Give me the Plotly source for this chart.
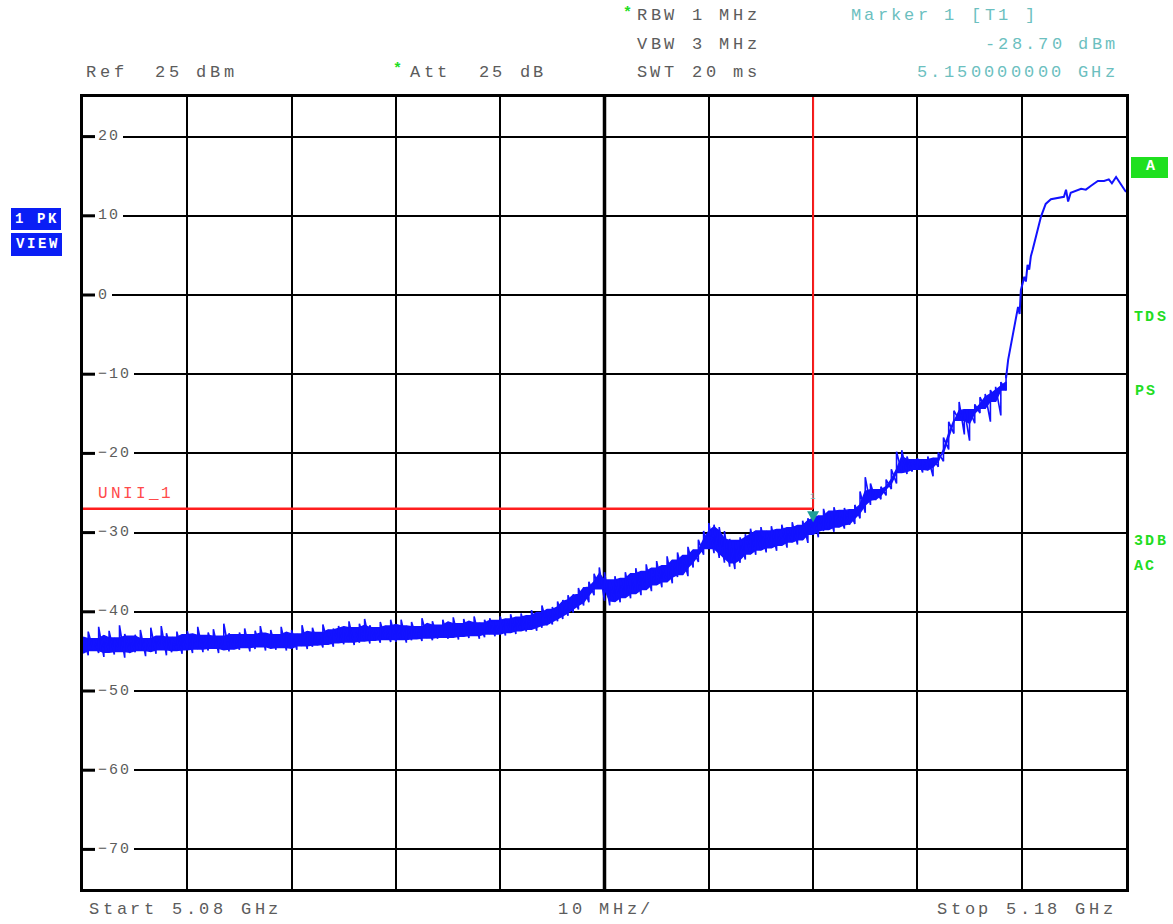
import plotly.graph_objects as go

# ---------------- data ----------------
F_START_GHZ = 5.08
F_STOP_GHZ = 5.18
SWEEP_STEP_GHZ = 0.0005
REF_LEVEL_DBM = 25
BOTTOM_LEVEL_DBM = -75

# noisy part of the trace (upper / lower envelope, one value per sweep step from start)
level_hi = [
    -43.2, -42.5, -43.4, -41.9, -43.0, -42.4, -43.3, -41.7, -42.8, -43.1,
    -42.9, -42.3, -43.4, -42.0, -43.1, -41.8, -42.7, -43.2, -42.5, -42.9,
    -42.4, -42.8, -41.9, -43.0, -42.6, -42.2, -43.1, -41.5, -42.7, -42.9,
    -42.6, -42.1, -42.9, -42.4, -41.8, -42.7, -42.3, -42.9, -41.9, -42.6,
    -42.3, -42.8, -41.7, -42.5, -42.0, -42.6, -41.6, -42.3, -42.1, -41.8,
    -41.9, -41.2, -42.0, -41.5, -40.9, -41.7, -42.0, -41.3, -41.8, -41.0,
    -41.6, -41.0, -41.8, -41.3, -41.9, -40.8, -41.5, -41.2, -41.7, -41.0,
    -41.3, -40.7, -41.5, -40.9, -41.2, -40.6, -41.4, -41.0, -40.8, -41.1,
    -40.6, -40.9, -40.3, -40.7, -40.2, -40.5, -39.8, -40.1, -39.2, -39.7,
    -39.4, -38.7, -38.5, -37.9, -37.8, -37.0, -36.9, -36.2, -35.2, -34.4,
    -35.0, -36.0, -35.5, -35.8, -35.0, -35.2, -34.5, -34.9, -34.0, -34.5,
    -33.6, -34.2, -33.0, -33.5, -32.5, -32.9, -31.8, -32.2, -30.9, -29.8,
    -28.8, -29.0, -29.3, -29.8, -30.8, -31.0, -30.6, -30.2, -29.5, -29.8,
    -29.3, -29.8, -29.2, -29.6, -29.0, -29.4, -28.7, -29.1, -28.5, -28.2,
    -27.5, -27.9, -27.0, -27.3, -26.8, -27.2, -26.9, -27.1, -26.5, -24.8,
    -23.0, -23.8, -24.6, -24.2, -23.3, -22.0, -19.8, -19.6, -20.4, -20.8,
    -20.6, -20.8, -20.4, -20.6, -19.9, -18.0, -16.0, -14.6, -13.5, -14.4,
    -14.5, -13.8, -12.9, -12.5, -12.0, -11.6, -11.0, -10.1,
]
level_lo = [
    -45.2, -45.5, -44.9, -45.2, -45.7, -45.1, -45.4, -45.0, -45.8, -45.2,
    -45.1, -44.9, -45.6, -45.0, -45.3, -44.8, -45.5, -45.1, -44.9, -45.3,
    -44.8, -45.2, -44.7, -45.1, -44.9, -44.6, -45.2, -44.8, -45.0, -44.7,
    -44.8, -44.5, -45.0, -44.7, -44.4, -44.9, -44.6, -44.8, -44.5, -44.9,
    -44.6, -44.8, -44.3, -44.7, -44.4, -44.2, -44.5, -44.1, -44.4, -43.9,
    -44.1, -43.8, -44.2, -43.9, -43.7, -44.0, -43.6, -43.9, -43.5, -43.8,
    -43.8, -43.5, -43.9, -43.6, -43.4, -43.7, -43.3, -43.6, -43.4, -43.2,
    -43.4, -43.2, -43.5, -43.1, -43.3, -43.0, -43.4, -43.2, -42.8, -43.1,
    -42.8, -43.0, -42.6, -42.8, -42.4, -42.5, -42.2, -42.4, -42.0, -41.7,
    -41.6, -41.2, -40.9, -40.5, -40.1, -39.7, -39.2, -38.8, -37.9, -37.1,
    -38.6, -39.2, -38.7, -38.8, -38.2, -38.3, -37.7, -37.9, -37.2, -37.4,
    -36.6, -36.9, -36.2, -36.4, -35.6, -35.3, -35.5, -34.4, -33.7, -32.8,
    -32.0, -32.6, -33.2, -33.8, -34.3, -34.6, -33.8, -33.4, -32.7, -32.8,
    -32.2, -32.5, -31.9, -32.3, -31.6, -31.9, -31.2, -31.5, -30.9, -31.3,
    -30.2, -30.6, -29.8, -29.6, -29.9, -29.3, -29.5, -29.0, -28.9, -28.2,
    -27.5, -26.5, -25.9, -25.8, -25.3, -24.5, -23.8, -22.4, -22.6, -22.3,
    -22.0, -22.4, -22.1, -22.9, -21.7, -21.0, -19.5, -17.5, -15.8, -17.6,
    -18.4, -16.2, -14.9, -14.3, -16.0, -13.4, -15.2, -12.0,
]

# clean upper part of the trace (in-band signal edge)
edge_freq_ghz = [
    5.1685, 5.1687, 5.16925, 5.16965, 5.1698, 5.16992, 5.1701, 5.17025,
    5.1704, 5.17056, 5.17072, 5.17088, 5.17105, 5.1712, 5.17185, 5.1723,
    5.1728, 5.17405, 5.17425, 5.17445, 5.1747, 5.1757, 5.17615, 5.17665,
    5.1773, 5.1779, 5.17835, 5.17865, 5.17905, 5.17935, 5.1798, 5.18,
]
edge_level_dbm = [
    -10.5, -8.2, -4.0, -1.5, -2.4, 0.6, 1.5, 2.3,
    1.7, 3.8, 3.2, 4.9, 5.7, 6.5, 9.9, 11.5,
    12.1, 12.4, 13.3, 11.8, 12.9, 13.4, 13.3, 13.8,
    14.4, 14.4, 14.6, 14.1, 14.9, 14.3, 13.3, 13.0,
]

y_tick_values = [20, 10, 0, -10, -20, -30, -40, -50, -60, -70]
y_tick_labels = ["20", "10", "0", "\u221210", "\u221220", "\u221230",
                 "\u221240", "\u221250", "\u221260", "\u221270"]

limit_level_dbm = -27.0
limit_name = "UNII_1"
marker_freq_ghz = 5.15
marker_level_dbm = -28.70

# ---------------- layout constants ----------------
W, H = 1173, 924
ML, MR, MT, MB = 83, 47, 97, 35
PW = W - ML - MR
PH = H - MT - MB

BLUE = "#1212ff"
TEAL = "#1f9e98"
TEAL_TXT = "#6cbfbf"
RED = "#ff1e1e"
GREEN = "#22dd22"
GREY = "#5c5c5c"
MONO = "Liberation Mono"


def px(x):      # page pixel -> paper x
    return (x - ML) / PW


def py(y):      # page pixel -> paper y
    return (MT + PH - y) / PH


sweep_freq = [round(F_START_GHZ + i * SWEEP_STEP_GHZ, 5) for i in range(len(level_hi))]
n = len(sweep_freq)
core_top = [min(level_hi[max(i - 1, 0):i + 2]) for i in range(n)]
core_bot = [max(level_lo[max(i - 1, 0):i + 2]) for i in range(n)]

fig = go.Figure()

# dense core of the noisy trace
fig.add_trace(go.Scatter(
    x=sweep_freq + sweep_freq[::-1],
    y=core_top + core_bot[::-1],
    mode="lines", fill="toself", fillcolor=BLUE,
    line=dict(color=BLUE, width=1.5), hoverinfo="skip", showlegend=False,
))
# sweep trace zig-zagging between min and max of each bucket
zz_x, zz_y = [], []
for f, lo, hi in zip(sweep_freq, level_lo, level_hi):
    zz_x += [f, f]
    zz_y += [lo, hi]
fig.add_trace(go.Scatter(x=zz_x, y=zz_y, mode="lines",
                         line=dict(color=BLUE, width=1.6),
                         hoverinfo="skip", showlegend=False))
# clean edge
fig.add_trace(go.Scatter(x=[sweep_freq[-1]] + edge_freq_ghz,
                         y=[level_hi[-1]] + edge_level_dbm, mode="lines",
                         line=dict(color=BLUE, width=2),
                         hoverinfo="skip", showlegend=False))

shapes = []
annotations = []

# centre grid line (thicker)
mid = (F_START_GHZ + F_STOP_GHZ) / 2
shapes.append(dict(type="line", xref="x", yref="paper", x0=mid, x1=mid, y0=0, y1=1,
                   line=dict(color="black", width=3.5), layer="below"))

# limit line + vertical display line
shapes.append(dict(type="line", xref="x", yref="y", x0=F_START_GHZ, x1=marker_freq_ghz,
                   y0=limit_level_dbm, y1=limit_level_dbm, line=dict(color=RED, width=2.5)))
shapes.append(dict(type="line", xref="x", yref="y", x0=marker_freq_ghz, x1=marker_freq_ghz,
                   y0=limit_level_dbm, y1=REF_LEVEL_DBM, line=dict(color=RED, width=2)))

# marker triangle
shapes.append(dict(type="path", xref="x", yref="y", xsizemode="pixel", ysizemode="pixel",
                   xanchor=marker_freq_ghz, yanchor=marker_level_dbm,
                   path="M -6 11 L 6 11 L 0 0 Z", fillcolor=TEAL, line=dict(width=0)))


def spaced(s, x_first, y, pitch, size, color, bold=False):
    """place a string character by character (instrument style wide pitch)"""
    for i, ch in enumerate(s):
        if ch == " ":
            continue
        annotations.append(dict(
            text=ch, x=px(x_first + i * pitch), y=py(y), xref="paper", yref="paper",
            xanchor="center", yanchor="middle", showarrow=False,
            font=dict(family=MONO, size=size, color=color,
                      weight="bold" if bold else "normal"),
        ))


# y tick stubs, white label backgrounds and labels
TICK_PITCH = 11
for v, lab in zip(y_tick_values, y_tick_labels):
    shapes.append(dict(type="line", xref="paper", yref="y", x0=0, x1=px(95),
                       y0=v, y1=v, line=dict(color="black", width=3)))
    shapes.append(dict(type="rect", xref="paper", yref="y", ysizemode="pixel",
                       yanchor=v, y0=-7, y1=7,
                       x0=px(95), x1=px(98 + len(lab) * TICK_PITCH + 3),
                       fillcolor="white", line=dict(width=0)))
    for i, ch in enumerate(lab):
        annotations.append(dict(
            text=ch, x=px(102.5 + i * TICK_PITCH), y=v, xref="paper", yref="y",
            xanchor="center", yanchor="middle", showarrow=False,
            font=dict(family=MONO, size=15, color=GREY),
        ))

# header
spaced("*", 627, 13, 13, 15, GREEN, bold=True)
spaced("RBW 1 MHz", 642, 16, 13.7, 17, GREY)
spaced("VBW 3 MHz", 642, 44, 13.7, 17, GREY)
spaced("SWT 20 ms", 642, 72, 13.7, 17, GREY)
spaced("Ref  25 dBm", 91, 72, 13.8, 17, GREY)
spaced("*", 397, 69, 13, 15, GREEN, bold=True)
spaced("Att  25 dB", 415, 72, 13.7, 17, GREY)
spaced("Marker 1 [T1 ]", 856, 16, 13.35, 17, TEAL_TXT)
spaced("-28.70 dBm", 990, 44, 13.35, 17, TEAL_TXT)
spaced("5.150000000 GHz", 922, 72, 13.4, 17, TEAL_TXT)

# footer
spaced("Start 5.08 GHz", 94, 909, 13.8, 17, GREY)
spaced("10 MHz/", 563, 909, 13.7, 17, GREY)
spaced("Stop 5.18 GHz", 942, 909, 13.8, 17, GREY)

# limit label and marker tag
spaced(limit_name, 103, 494, 12.6, 16, "#ff4a4a")
spaced("1", 812, 497, 8, 9, TEAL_TXT)

# right side status labels
shapes.append(dict(type="rect", xref="paper", yref="paper",
                   x0=px(1131), x1=px(1168), y0=py(178), y1=py(157),
                   fillcolor="#1fe01f", line=dict(width=0)))
spaced("A", 1150, 167, 10, 15, "white", bold=True)
spaced("TDS", 1138, 317, 11.5, 15, GREEN, bold=True)
spaced("PS", 1139, 391, 11.5, 15, GREEN, bold=True)
spaced("3DB", 1138, 541, 11.5, 15, GREEN, bold=True)
spaced("AC", 1138, 566, 11.5, 15, GREEN, bold=True)

# left trace boxes
shapes.append(dict(type="rect", xref="paper", yref="paper",
                   x0=px(11), x1=px(61), y0=py(230), y1=py(208),
                   fillcolor="#0a1ef5", line=dict(width=0)))
shapes.append(dict(type="rect", xref="paper", yref="paper",
                   x0=px(11), x1=px(62), y0=py(256), y1=py(233),
                   fillcolor="#0a1ef5", line=dict(width=0)))
spaced("1 PK", 19, 219, 11.2, 14, "white", bold=True)
spaced("VIEW", 20, 244, 11.2, 14, "white", bold=True)

fig.update_layout(
    width=W, height=H,
    margin=dict(l=ML, r=MR, t=MT, b=MB),
    paper_bgcolor="white", plot_bgcolor="white",
    showlegend=False,
    shapes=shapes, annotations=annotations,
    xaxis=dict(range=[F_START_GHZ, F_STOP_GHZ], tick0=F_START_GHZ, dtick=0.01,
               showgrid=True, gridcolor="black", gridwidth=2,
               showline=True, linecolor="black", linewidth=3, mirror=True,
               showticklabels=False, ticks="", zeroline=False, fixedrange=True),
    yaxis=dict(range=[BOTTOM_LEVEL_DBM, REF_LEVEL_DBM], tick0=0, dtick=10,
               showgrid=True, gridcolor="black", gridwidth=2,
               showline=True, linecolor="black", linewidth=3, mirror=True,
               showticklabels=False, ticks="", zeroline=False, fixedrange=True),
)

fig.write_html(
    "out.html",
    config={"displayModeBar": False},
    post_script="document.body.style.margin='0px';document.body.style.overflow='hidden';",
)
